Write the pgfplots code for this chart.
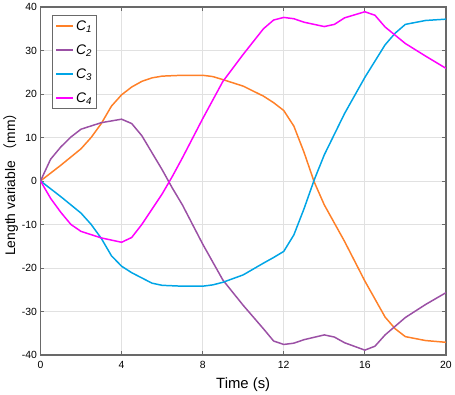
\documentclass[border=0pt]{standalone}
\usepackage{pgfplots}
\pgfplotsset{compat=1.18}
\usepackage{fontspec}
\setmainfont{Liberation Sans}
\newfontfamily\cjk{Noto Sans CJK SC}
\definecolor{cOne}{RGB}{255,128,40}
\definecolor{cTwo}{RGB}{155,80,165}
\definecolor{cThree}{RGB}{0,165,230}
\definecolor{cFour}{RGB}{255,0,255}
\definecolor{axgray}{RGB}{105,105,105}
\definecolor{gridgray}{RGB}{225,225,225}
\begin{document}
\begin{tikzpicture}
\begin{axis}[
  scale only axis,
  width=409pt, height=351pt,
  xmin=0, xmax=20, ymin=-40, ymax=40,
  xtick={0,4,8,12,16,20},
  ytick={-40,-30,...,40},
  /pgf/number format/assume math mode=true,
  tick label style={font=\fontsize{10.5}{12}\selectfont},
  xticklabel style={yshift=-3pt},
  xlabel={Time (s)},
  ylabel={Length variable\ {\cjk （}mm{\cjk ）}},
  every axis x label/.style={at={(axis description cs:0.5,-0.0855)}, anchor=center, font=\fontsize{15}{17}\selectfont},
  every axis y label/.style={at={(axis description cs:-0.0735,0.5)}, anchor=center, rotate=90, font=\fontsize{14}{16}\selectfont},
  grid=major,
  major grid style={gridgray, line width=0.8pt},
  axis line style={axgray, line width=1.3pt},
  tick style={axgray, line width=0.8pt},
  tick align=inside,
  major tick length=4pt,
  xtick pos=both, ytick pos=both,
  legend style={at={(0.029,0.977)}, anchor=north west, draw=axgray, line width=0.8pt,
    font=\fontsize{14}{16}\selectfont, row sep=9pt, inner sep=3pt},
  legend image post style={line width=1.5pt},
  legend cell align=left,
  every axis plot/.append style={line width=1.5pt},
]
\addplot[cOne] coordinates {
(0,0) (1,3.6) (2,7.4) (2.5,10) (3,13.2) (3.5,17.2) (4,19.8) (4.5,21.6) (5,22.9) (5.5,23.7) (6,24.1) (7,24.3) (8,24.3) (8.5,24.0)
(9,23.3) (10,21.8) (11,19.5) (11.5,18) (12,16.2) (12.5,12.6) (13,6.6) (13.5,-0.2) (14,-5.5) (15,-13.9)
(16,-23) (17,-31.3) (17.5,-34) (18,-35.8) (19,-36.7) (20,-37.1)
};
\addlegendentry{\textit{C\textsubscript{1}}}
\addplot[cTwo] coordinates {
(0,0) (0.5,5) (1,7.8) (1.5,10.1) (2,11.9) (3,13.4) (4,14.2) (4.5,13.2) (5,10.4) (6,2.6) (6.5,-1.6) (7,-5.5)
(8,-14.5) (9,-22.8) (10,-28.6) (11,-34) (11.5,-36.8) (12,-37.6) (12.5,-37.3) (13,-36.5) (14,-35.4) (14.5,-35.9) (15,-37.2)
(16,-38.9) (16.5,-38) (17,-35.4) (18,-31.4) (19,-28.4) (20,-25.7)
};
\addlegendentry{\textit{C\textsubscript{2}}}
\addplot[cThree] coordinates {
(0,0) (1,-3.6) (2,-7.4) (2.5,-10) (3,-13.2) (3.5,-17.2) (4,-19.6) (4.5,-21.1) (5,-22.3) (5.5,-23.5) (6,-24) (7,-24.2) (8,-24.2) (8.5,-23.9)
(9,-23.3) (10,-21.6) (11,-18.9) (11.5,-17.6) (12,-16.2) (12.5,-12.4) (13,-6.4) (13.5,0.2) (14,6) (15,15.5)
(16,23.8) (17,31.3) (17.5,34) (18,36) (19,36.9) (20,37.2)
};
\addlegendentry{\textit{C\textsubscript{3}}}
\addplot[cFour] coordinates {
(0,0) (0.5,-4) (1,-7.2) (1.5,-10) (2,-11.6) (3,-13.1) (4,-14.1) (4.5,-13) (5,-10) (6,-3) (6.5,1) (7,5.3)
(8,14.3) (9,22.9) (10,29.1) (11,35) (11.5,37) (12,37.6) (12.5,37.3) (13,36.5) (14,35.5) (14.5,36) (15,37.5)
(16,38.9) (16.5,38.1) (17,35.4) (18,31.6) (19,28.7) (20,25.9)
};
\addlegendentry{\textit{C\textsubscript{4}}}
\end{axis}
\end{tikzpicture}
\end{document}
